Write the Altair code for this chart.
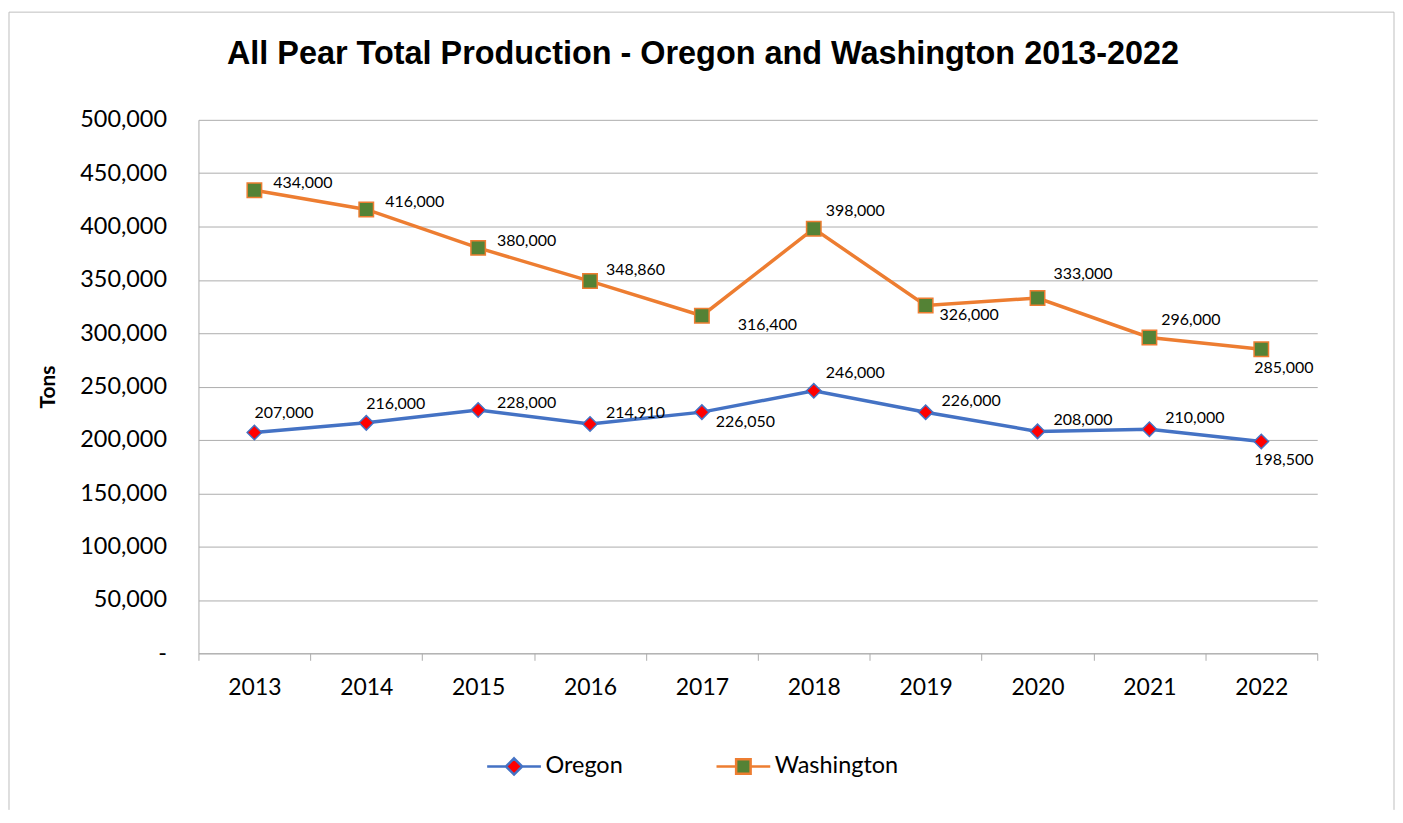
import altair as alt
import pandas as pd

# ---------------- data ----------------
years = ["2013", "2014", "2015", "2016", "2017", "2018", "2019", "2020", "2021", "2022"]
states = ["Oregon", "Washington"]
oregon_tons = [207000, 216000, 228000, 214910, 226050, 246000, 226000, 208000, 210000, 198500]
washington_tons = [434000, 416000, 380000, 348860, 316400, 398000, 326000, 333000, 296000, 285000]
# where each data label sits relative to its marker
oregon_label_spot = ["above", "above", "right_up", "upper_right", "right_below",
                     "high_right", "upper_right", "upper_right", "upper_right", "below"]
washington_label_spot = ["right_up", "right_up", "right_up", "upper_right", "far_right",
                         "high_right", "right_below", "top_right", "high_right", "below"]
y_ticks = [0, 50000, 100000, 150000, 200000, 250000, 300000, 350000, 400000, 450000, 500000]
TITLE = "All Pear Total Production - Oregon and Washington 2013-2022"
Y_TITLE = "Tons"

# ---------------- styles ----------------
line_colors = ["#4472C4", "#ED7D31"]
marker_fills = ["#FF0000", "#548235"]
marker_shapes = ["diamond", "square"]
legend_paths = [
    "M-2.45,0H-0.74M0.74,0H2.45M0,-0.74L0.74,0L0,0.74L-0.74,0Z",
    "M-2.45,0H-0.66M0.66,0H2.45M-0.66,-0.66H0.66V0.66H-0.66Z",
]
legend_x = [304, 534]
LEGEND_Y = 636
LABEL_OFFSETS = {
    "right_up": (19, -7),
    "upper_right": (16, -11),
    "high_right": (12, -18),
    "top_right": (16, -24),
    "right_below": (14, 10),
    "far_right": (36, 9),
    "above": (0, -19),
    "below": (-7, 19),
}
GRID = "#ADADAD"
FRAME = "#BFBFBF"
FONT = "Lato"

rows = []
for state, vals, spots in [("Oregon", oregon_tons, oregon_label_spot),
                           ("Washington", washington_tons, washington_label_spot)]:
    for y, v, s in zip(years, vals, spots):
        rows.append({"year": y, "state": state, "tons": v, "spot": s})
df = pd.DataFrame(rows)
one = pd.DataFrame({"title": [TITLE]})

x_enc = alt.X(
    "year:N",
    sort=years,
    scale=alt.Scale(type="band", paddingInner=0, paddingOuter=0),
    axis=alt.Axis(
        title=None, grid=False, labelAngle=0, tickBand="extent",
        domainColor=GRID, tickColor=GRID, tickSize=7, domainWidth=1,
        labelFont=FONT, labelFontSize=23, labelColor="black", labelPadding=16,
    ),
)
y_enc = alt.Y(
    "tons:Q",
    scale=alt.Scale(domain=[0, 500000], nice=False),
    axis=alt.Axis(
        values=y_ticks, grid=True, gridColor=GRID, domain=True, domainColor=GRID,
        ticks=False, labelPadding=32, labelFont=FONT, labelFontSize=23.5, labelColor="black",
        labelExpr="datum.value === 0 ? '-\u00a0\u00a0\u00a0' : format(datum.value, ',')",
        title=Y_TITLE, titleFont=FONT, titleFontSize=21, titleFontWeight="bold",
        titleColor="black", titlePadding=21,
    ),
)

base = alt.Chart(df).encode(x=x_enc, y=y_enc)

lines = base.mark_line(strokeWidth=3.5).encode(
    stroke=alt.Stroke("state:N", scale=alt.Scale(domain=states, range=line_colors), legend=None)
)

point_layers = []
for i, st in enumerate(states):
    point_layers.append(
        base.transform_filter(alt.datum.state == st)
        .mark_point(filled=True, shape=marker_shapes[i], size=210, stroke=line_colors[i],
                    strokeWidth=1.5, opacity=1)
        .encode(
            fill=alt.Fill(
                "state:N",
                scale=alt.Scale(domain=[st], range=[marker_fills[i]]),
                legend=alt.Legend(
                    title=None, orient="none", legendX=legend_x[i], legendY=LEGEND_Y,
                    direction="horizontal", labelFont=FONT, labelFontSize=23.5, labelColor="black",
                    symbolType=legend_paths[i], symbolSize=484, symbolStrokeWidth=2.5,
                    symbolStrokeColor=line_colors[i], symbolFillColor=marker_fills[i],
                    symbolOpacity=1, labelOffset=19, padding=0,
                ),
            )
        )
    )

labels = []
for key, (dx, dy) in LABEL_OFFSETS.items():
    labels.append(
        base.transform_filter(alt.datum.spot == key)
        .mark_text(align="left", baseline="middle", dx=dx, dy=dy, font=FONT, fontSize=16, color="black")
        .encode(text=alt.Text("tons:Q", format=","))
    )

title = alt.Chart(one).mark_text(
    font="Liberation Sans", fontWeight="bold", fontSize=32.5, align="center", baseline="middle", color="black"
).encode(x=alt.value(506), y=alt.value(-66), text="title:N")

frame_left = alt.Chart(one).mark_rule(color=FRAME, strokeWidth=1).encode(
    x=alt.value(-190), y=alt.value(-108), y2=alt.value(692))
frame_top = alt.Chart(one).mark_rule(color=FRAME, strokeWidth=1).encode(
    x=alt.value(-190), x2=alt.value(1199), y=alt.value(-108))
frame_right = alt.Chart(one).mark_rule(color=FRAME, strokeWidth=1).encode(
    x=alt.value(1199), y=alt.value(-108), y2=alt.value(692))

chart = alt.layer(frame_left, frame_top, frame_right, title, lines, *point_layers, *labels).resolve_scale(
    fill="independent"
).properties(
    width=1122, height=535,
    padding={"left": 0, "top": 2, "right": 0, "bottom": 0},
).configure_view(stroke=None)

chart.save("out.html", embed_options={"renderer": "svg", "actions": False})
